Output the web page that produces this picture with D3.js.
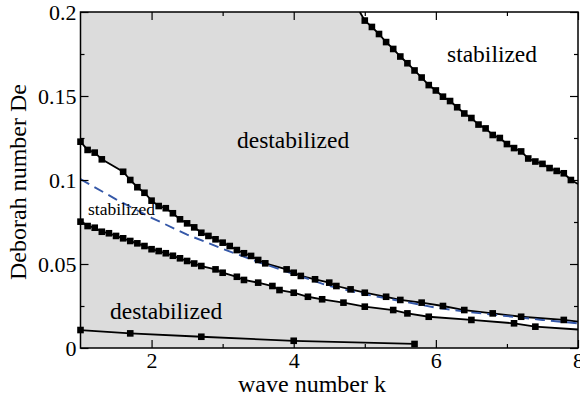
<!DOCTYPE html>
<html>
<head>
<meta charset="utf-8">
<script src="https://cdn.jsdelivr.net/npm/d3@7"></script>
<style>
  body { margin: 0; background: #fff; }
  svg text { font-family: "Liberation Serif", "Times New Roman", serif; fill: #000; }
  .tick line { stroke: #000; stroke-width: 1.2; }
</style>
</head>
<body>
<div id="chart"></div>
<script>
// Upper boundary of the left "stabilized" band
const kUpper  = [1.0, 1.1, 1.2, 1.3, 1.6, 1.7, 1.8, 1.9, 2.0, 2.1, 2.2, 2.3, 2.4, 2.5, 2.6, 2.7, 2.8, 2.9, 3.0, 3.1, 3.2, 3.3, 3.4, 3.5, 3.6, 3.9, 4.0, 4.1, 4.3, 4.5, 4.6, 4.8, 5.0, 5.3, 5.5, 5.8, 6.1, 6.4, 6.8, 7.2, 7.8, 8.0];
const deUpper = [0.1228, 0.1179, 0.1163, 0.1123, 0.1049, 0.1000, 0.0957, 0.0924, 0.0877, 0.0845, 0.0832, 0.0802, 0.0766, 0.0742, 0.0718, 0.0686, 0.0667, 0.0647, 0.0627, 0.0607, 0.0583, 0.0564, 0.0548, 0.0524, 0.0504, 0.0468, 0.0448, 0.0429, 0.0409, 0.0389, 0.0369, 0.0349, 0.0329, 0.0305, 0.0286, 0.0270, 0.0250, 0.0226, 0.0206, 0.0186, 0.0167, 0.0157];

// Lower boundary of that band
const kLower  = [1.0, 1.1, 1.2, 1.3, 1.4, 1.5, 1.6, 1.7, 1.8, 1.9, 2.0, 2.1, 2.2, 2.3, 2.4, 2.5, 2.6, 2.7, 2.9, 3.0, 3.2, 3.3, 3.5, 3.7, 3.8, 4.0, 4.2, 4.4, 4.7, 5.0, 5.4, 5.6, 5.9, 6.5, 7.1, 7.4, 8.0];
const deLower = [0.0752, 0.0726, 0.0716, 0.0692, 0.0683, 0.0667, 0.0653, 0.0637, 0.0623, 0.0607, 0.0588, 0.0577, 0.0564, 0.0549, 0.0534, 0.0518, 0.0503, 0.0488, 0.0468, 0.0448, 0.0424, 0.0405, 0.0389, 0.0369, 0.0345, 0.0329, 0.0305, 0.0290, 0.0270, 0.0246, 0.0226, 0.0206, 0.0186, 0.0167, 0.0147, 0.0127, 0.0110];

// Dashed blue curve
const kDashed  = [1.0, 1.5, 2.0, 2.5, 3.0, 3.5, 4.0, 4.5, 5.0, 5.5, 6.0, 6.5, 7.0, 7.5, 8.0];
const deDashed = [0.1005, 0.0885, 0.0775, 0.0675, 0.0590, 0.0512, 0.0440, 0.0369, 0.0320, 0.0280, 0.0240, 0.0212, 0.0190, 0.0167, 0.0147];

// Bottom curve
const kBottom  = [1.0, 1.7, 2.7, 4.0, 5.7];
const deBottom = [0.0107, 0.0087, 0.0067, 0.0043, 0.0024];

// Top-right curve
const kRight  = [4.93, 5.0, 5.1, 5.2, 5.3, 5.4, 5.5, 5.6, 5.7, 5.8, 5.9, 6.0, 6.1, 6.2, 6.3, 6.4, 6.5, 6.6, 6.7, 6.8, 6.9, 7.0, 7.1, 7.2, 7.3, 7.4, 7.5, 7.6, 7.7, 7.8, 7.9, 8.0];
const deRight = [0.2000, 0.1949, 0.1911, 0.1869, 0.1821, 0.1780, 0.1735, 0.1695, 0.1652, 0.1610, 0.1565, 0.1533, 0.1496, 0.1470, 0.1433, 0.1396, 0.1369, 0.1330, 0.1307, 0.1268, 0.1250, 0.1214, 0.1190, 0.1170, 0.1128, 0.1110, 0.1096, 0.1071, 0.1054, 0.1040, 0.1000, 0.0976];

const xTicks = [2, 4, 6, 8];
const xMinor = [3, 5, 7];
const yTicks = [0, 0.05, 0.1, 0.15, 0.2];
const yMinor = [0.025, 0.075, 0.125, 0.175];

const width = 580, height = 403;
const margin = { top: 12, right: 2, bottom: 55, left: 80.5 };

const svg = d3.select("#chart")
  .append("svg")
  .attr("width", width)
  .attr("height", height);

const x = d3.scaleLinear().domain([1, 8]).range([margin.left, width - margin.right]);
const y = d3.scaleLinear().domain([0, 0.2]).range([height - margin.bottom, margin.top]);

const zip = (ks, ds) => ks.map((k, i) => ({ k, de: ds[i] }));
const upper = zip(kUpper, deUpper);
const lower = zip(kLower, deLower);
const dashed = zip(kDashed, deDashed);
const bottom = zip(kBottom, deBottom);
const right = zip(kRight, deRight);

// clip everything to the plot frame
svg.append("clipPath").attr("id", "plot-clip")
  .append("rect")
  .attr("x", x(1)).attr("y", y(0.2))
  .attr("width", x(8) - x(1)).attr("height", y(0) - y(0.2));

const plot = svg.append("g").attr("clip-path", "url(#plot-clip)");

// grey background = destabilized
plot.append("rect")
  .attr("x", x(1)).attr("y", y(0.2))
  .attr("width", x(8) - x(1)).attr("height", y(0) - y(0.2))
  .attr("fill", "#dcdcdc");

const line = d3.line().x(d => x(d.k)).y(d => y(d.de));

// white band between upper and lower curves
plot.append("path")
  .attr("d", line(upper.concat(lower.slice().reverse())) + "Z")
  .attr("fill", "#fff");

// white region above the top-right curve
plot.append("path")
  .attr("d", line(right.concat([{ k: 8, de: 0.2 }])) + "Z")
  .attr("fill", "#fff");

// solid curves
[upper, lower, bottom, right].forEach(series => {
  plot.append("path")
    .attr("d", line(series))
    .attr("fill", "none")
    .attr("stroke", "#000")
    .attr("stroke-width", 1.8);
});

// dashed blue curve
plot.append("path")
  .attr("d", line(dashed))
  .attr("fill", "none")
  .attr("stroke", "#3558a8")
  .attr("stroke-width", 1.9)
  .attr("stroke-dasharray", "10,6");

// square markers (end points at the frame edge carry none)
const markers = [upper, lower, bottom, right].flat()
  .filter(d => d.k < 7.99 && d.de < 0.1999);
svg.append("g")
  .selectAll("rect")
  .data(markers)
  .join("rect")
  .attr("x", d => x(d.k) - 3.3)
  .attr("y", d => y(d.de) - 3.3)
  .attr("width", 6.6)
  .attr("height", 6.6)
  .attr("fill", "#000");

// axes, ticks pointing inwards
const yFmt = d => String(+d.toFixed(3));

svg.append("g")
  .attr("transform", `translate(0,${y(0)})`)
  .call(d3.axisBottom(x).tickValues(xTicks).tickSize(-8).tickPadding(4.5).tickFormat(d3.format("d")));
svg.append("g")
  .attr("transform", `translate(0,${y(0)})`)
  .call(d3.axisBottom(x).tickValues(xMinor).tickSize(-4).tickFormat(""));
svg.append("g")
  .attr("transform", `translate(0,${y(0.2)})`)
  .call(d3.axisTop(x).tickValues(xTicks).tickSize(-8).tickFormat(""));
svg.append("g")
  .attr("transform", `translate(0,${y(0.2)})`)
  .call(d3.axisTop(x).tickValues(xMinor).tickSize(-4).tickFormat(""));

svg.append("g")
  .attr("transform", `translate(${x(1)},0)`)
  .call(d3.axisLeft(y).tickValues(yTicks).tickSize(-8).tickPadding(4).tickFormat(yFmt));
svg.append("g")
  .attr("transform", `translate(${x(1)},0)`)
  .call(d3.axisLeft(y).tickValues(yMinor).tickSize(-4).tickFormat(""));
svg.append("g")
  .attr("transform", `translate(${x(8)},0)`)
  .call(d3.axisRight(y).tickValues(yTicks).tickSize(-8).tickFormat(""));
svg.append("g")
  .attr("transform", `translate(${x(8)},0)`)
  .call(d3.axisRight(y).tickValues(yMinor).tickSize(-4).tickFormat(""));

svg.selectAll(".domain").remove();
svg.selectAll(".tick text")
  .attr("font-size", 22)
  .style("font-family", "'Liberation Serif', serif");

// frame
svg.append("rect")
  .attr("x", x(1)).attr("y", y(0.2))
  .attr("width", x(8) - x(1)).attr("height", y(0) - y(0.2))
  .attr("fill", "none")
  .attr("stroke", "#000")
  .attr("stroke-width", 1.5);

// region labels
svg.append("text").text("stabilized")
  .attr("x", 447).attr("y", 62).attr("font-size", 23.5);
svg.append("text").text("destabilized")
  .attr("x", 237).attr("y", 148).attr("font-size", 23.5);
svg.append("text").text("stabilized")
  .attr("x", 88).attr("y", 215).attr("font-size", 17.5);
svg.append("text").text("destabilized")
  .attr("x", 110).attr("y", 319).attr("font-size", 23.5);

// axis titles
svg.append("text").text("wave number k")
  .attr("x", 312).attr("y", 392)
  .attr("text-anchor", "middle")
  .attr("font-size", 24);
svg.append("text").text("Deborah number De")
  .attr("transform", "translate(26,182) rotate(-90)")
  .attr("text-anchor", "middle")
  .attr("font-size", 24);
</script>
</body>
</html>
